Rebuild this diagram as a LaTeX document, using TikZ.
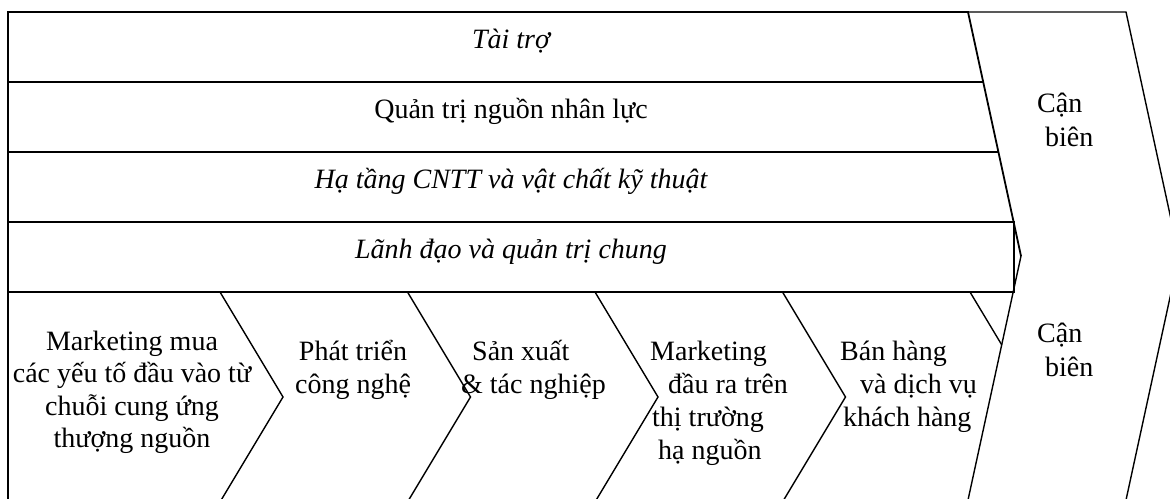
\documentclass[tikz,border=0pt]{standalone}
\usepackage{fontspec}
\setmainfont{Liberation Serif}

\begin{document}
\begin{tikzpicture}[x=1pt,y=-1pt,
	lbl/.style={font=\fontsize{28}{33}\selectfont, inner sep=0pt, align=left, anchor=base west},
	rowlbl/.style={font=\fontsize{28}{33}\selectfont\itshape, inner sep=0pt, anchor=base},
	rowline/.style={line width=1.8pt},
	edge/.style={line width=1.4pt}]

	\useasboundingbox (0,0) rectangle (1170,498);
	\clip (0,0) rectangle (1170,498);

	% support activities
	\draw[rowline] (1021,256) -- (968,12) -- (8,12) -- (8,505);
	\draw[rowline] (8,82) -- (983.2,82);
	\draw[rowline] (8,152) -- (998.4,152);
	\draw[rowline] (8,222) -- (1013.6,222) -- (1013.6,292) -- (8,292);

	\node[rowlbl] (fin) at (511,48) {Tài trợ};
	\node[rowlbl, font=\fontsize{28}{33}\selectfont] (hrm) at (511,118) {Quản trị nguồn nhân lực};
	\node[rowlbl] (infra) at (511,188) {Hạ tầng CNTT và vật chất kỹ thuật};
	\node[rowlbl] (lead) at (511,258) {Lãnh đạo và quản trị chung};

	% margin arrow
	\draw[edge] (968,12) -- (1126,12) -- (1179,256) -- (1126,500);
	\draw[edge] (1021,256) -- (968,500);

	% primary activities (base = last line)
	\foreach \x in {220,407.5,595,782.5}
		\draw[edge] (\x,292) -- ++(63,105) -- ++(-63,105);
	\draw[edge] (970,292) -- (1001.7,344.8);

	\node[lbl, font=\fontsize{28}{32.5}\selectfont, align=center, anchor=base] (inbound) at (132,447.5) {Marketing mua\\các yếu tố đầu vào từ\\chuỗi cung ứng\\thượng nguồn};
	\node[lbl, align=center, anchor=base] (tech) at (353,393) {Phát triển\\công nghệ};
	\node[lbl] (ops) at (461,393) {\hspace*{11pt}Sản xuất\\\& tác nghiệp};
	\node[lbl] (outbound) at (650,459) {Marketing\\\hspace*{18pt}đầu ra trên\\\hspace*{2pt}thị trường\\\hspace*{8pt}hạ nguồn};
	\node[lbl] (sales) at (840,426) {Bán hàng\\\hspace*{20pt}và dịch vụ\\\hspace*{3pt}khách hàng};

	\node[lbl, font=\fontsize{28}{34}\selectfont] (margintop) at (1037,146) {Cận\\\hspace*{8pt}biên};
	\node[lbl, font=\fontsize{28}{34}\selectfont] (marginbot) at (1037,376) {Cận\\\hspace*{8pt}biên};

\end{tikzpicture}
\end{document}
